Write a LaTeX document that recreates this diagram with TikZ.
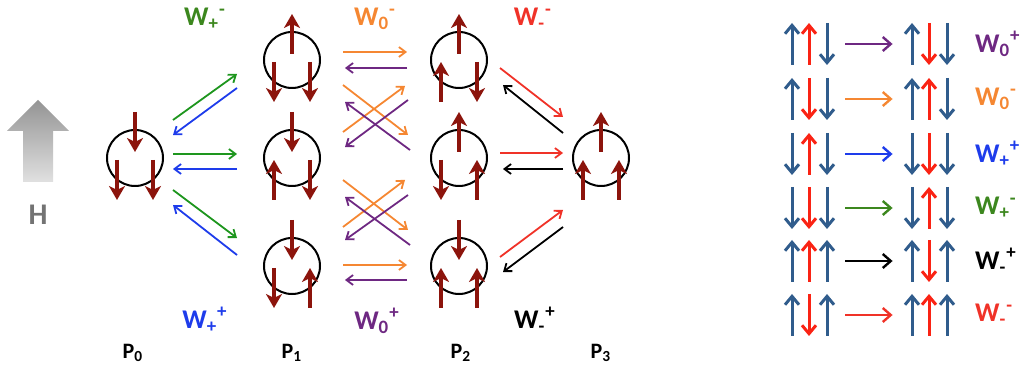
\documentclass[tikz,border=0pt]{standalone}
\usepackage{fontspec}
\setmainfont{Carlito}
\usetikzlibrary{arrows.meta,calc}

\definecolor{spinred}{RGB}{140,20,12}
\definecolor{tblue}{RGB}{48,92,140}
\definecolor{tred}{RGB}{250,35,20}
\definecolor{wgreen}{RGB}{60,135,30}
\definecolor{agreen}{RGB}{30,150,30}
\definecolor{wblue}{RGB}{30,60,235}
\definecolor{worange}{RGB}{245,135,50}
\definecolor{wpurple}{RGB}{110,40,130}
\definecolor{wred}{RGB}{240,50,40}

% W with a subscript and a superscript
\newcommand{\W}[2]{W\textsubscript{#1}\textsuperscript{#2}}

% three spins in a site: centre, left, right (1 = up, -1 = down)
\newcommand{\spins}[4]{%
  \draw[spin] ($(#1)+(0,{-26+20*#2})$) -- ($(#1)+(0,{-26-20*#2})$);
  \draw[spin] ($(#1)+(-18,{22+20*#3})$) -- ($(#1)+(-18,{22-20*#3})$);
  \draw[spin] ($(#1)+(18,{22+20*#4})$) -- ($(#1)+(18,{22-20*#4})$);
}

% one spin of the table: x, row y, 1 up / -1 down, colour
\newcommand{\tspin}[4]{%
  \draw[tabspin,draw=#4] (#1,{#2+21*#3}) -- (#1,{#2-21*#3});
}

\begin{document}
\begin{tikzpicture}[
    x=0.5pt, y=-0.5pt,          % one unit = one pixel, y downwards
    line cap=butt,
    site/.style={circle, draw, line width=1pt, minimum size=28pt, inner sep=0pt},
    spin/.style={draw=spinred, line width=2.1pt, -{Stealth[length=7pt,width=8pt,inset=2pt]}},
    hop/.style={line width=0.9pt, -{Straight Barb[length=3.3pt,width=5pt]}},
    tabspin/.style={line width=1.5pt, -{Straight Barb[length=4.2pt,width=7pt]}},
    move/.style={line width=1.2pt, -{Straight Barb[length=4pt,width=7pt]}},
    wlab/.style={font=\fontsize{13.5}{13.5}\selectfont\bfseries},
    plab/.style={font=\fontsize{11}{11}\selectfont\bfseries},
    ghost/.style={minimum width=36pt, minimum height=4pt, inner sep=0pt}
]
\useasboundingbox (0,0) rectangle (1025,369);

%-----------------------
% FIELD ARROW
%-----------------------
\shade[top color=black!42, bottom color=black!12]
  (38,100) -- (69,131) -- (53,131) -- (53,182) -- (23,182) -- (23,131) -- (7,131) -- cycle;
\node[font=\fontsize{15}{15}\selectfont\bfseries, text=black!55] (hlab) at (38,215) {H};

%-----------------------
% SITES
%-----------------------
\node[site] (p0)  at (135,158) {};
\node[site] (p1a) at (292,60)  {};
\node[site] (p1b) at (292,158) {};
\node[site] (p1c) at (292,266) {};
\node[site] (p2a) at (459,60)  {};
\node[site] (p2b) at (459,158) {};
\node[site] (p2c) at (459,266) {};
\node[site] (p3)  at (601,158) {};

\spins{p0}{-1}{-1}{-1}
\spins{p1a}{1}{-1}{-1}
\spins{p1b}{-1}{1}{-1}
\spins{p1c}{-1}{-1}{1}
\spins{p2a}{1}{1}{-1}
\spins{p2b}{1}{-1}{1}
\spins{p2c}{-1}{1}{1}
\spins{p3}{1}{1}{1}

\node[plab] (n0) at (133,353) {P\textsubscript{0}};
\node[plab] (n1) at (292,353) {P\textsubscript{1}};
\node[plab] (n2) at (461,353) {P\textsubscript{2}};
\node[plab] (n3) at (601,353) {P\textsubscript{3}};

%-----------------------
% P0 <-> P1
%-----------------------
\draw[hop,agreen] ($(p0)+(38,-38)$) -- ($(p1a)+(-55,14)$);
\draw[hop,wblue]  ($(p1a)+(-55,28)$) -- ($(p0)+(38,-23)$);
\draw[hop,agreen] ($(p0)+(38,-4)$)  -- ($(p1b)+(-55,-4)$);
\draw[hop,wblue]  ($(p1b)+(-55,11)$) -- ($(p0)+(38,11)$);
\draw[hop,agreen] ($(p0)+(38,32)$)  -- ($(p1c)+(-55,-28)$);
\draw[hop,wblue]  ($(p1c)+(-55,-11)$) -- ($(p0)+(38,47)$);

\node[wlab,text=wgreen] (wpm) at (205,19) {\W{+}{-}};
\node[wlab,text=wblue]  (wpp) at (205,320) {\W{+}{+}};

%-----------------------
% P1 <-> P2
%-----------------------
\draw[hop,worange] ($(p1a)+(51,-8)$)  -- ($(p2a)+(-52,-8)$);
\draw[hop,wpurple] ($(p2a)+(-52,8)$)  -- ($(p1a)+(53,8)$);
\draw[hop,worange] ($(p1a)+(51,25)$)  -- ($(p2b)+(-51,-23)$);
\draw[hop,worange] ($(p1b)+(51,-26)$) -- ($(p2a)+(-54,26)$);
\draw[hop,wpurple] ($(p2a)+(-51,40)$) -- ($(p1b)+(53,-11)$);
\draw[hop,wpurple] ($(p2b)+(-49,-8)$) -- ($(p1a)+(53,42)$);
\draw[hop,worange] ($(p1b)+(51,22)$)  -- ($(p2c)+(-51,-36)$);
\draw[hop,worange] ($(p1c)+(51,-39)$) -- ($(p2b)+(-54,22)$);
\draw[hop,wpurple] ($(p2b)+(-51,37)$) -- ($(p1c)+(53,-26)$);
\draw[hop,wpurple] ($(p2c)+(-49,-21)$) -- ($(p1b)+(53,39)$);
\draw[hop,worange] ($(p1c)+(51,-1)$)  -- ($(p2c)+(-52,-1)$);
\draw[hop,wpurple] ($(p2c)+(-52,14)$) -- ($(p1c)+(53,14)$);

\node[wlab,text=worange] (wzm) at (375,19) {\W{0}{-}};
\node[wlab,text=wpurple] (wzp) at (377,321) {\W{0}{+}};

%-----------------------
% P2 <-> P3
%-----------------------
\draw[hop,wred] ($(p2a)+(41,8)$)  -- ($(p3)+(-38,-41)$);
\draw[hop]      ($(p3)+(-38,-25)$) -- ($(p2a)+(44,25)$);
\draw[hop,wred] ($(p2b)+(41,-5)$) -- ($(p3)+(-38,-5)$);
\draw[hop]      ($(p3)+(-38,11)$) -- ($(p2b)+(44,11)$);
\draw[hop,wred] ($(p2c)+(41,-9)$) -- ($(p3)+(-38,52)$);
\draw[hop]      ($(p3)+(-38,69)$) -- ($(p2c)+(44,6)$);

\node[wlab,text=wred] (wmm) at (533,19) {\W{-}{-}};
\node[wlab] (wmp) at (535,320) {\W{-}{+}};

%-----------------------
% TABLE OF FLIPS
%-----------------------
\foreach \y/\a/\b/\c/\d/\e/\f/\col/\lab [count=\k] in {
    44/1/1/-1/1/-1/-1/wpurple/{\W{0}{+}},
    99/1/-1/-1/1/1/-1/worange/{\W{0}{-}},
    154/-1/1/-1/-1/-1/-1/wblue/{\W{+}{+}},
    208/-1/-1/-1/-1/1/-1/wgreen/{\W{+}{-}},
    261/1/1/1/1/-1/1/black/{\W{-}{+}},
    315/1/-1/1/1/1/1/wred/{\W{-}{-}}}{
  \tspin{792}{\y}{\a}{tblue}
  \tspin{809}{\y}{\b}{tred}
  \tspin{827}{\y}{\c}{tblue}
  \tspin{912}{\y}{\d}{tblue}
  \tspin{929}{\y}{\e}{tred}
  \tspin{947}{\y}{\f}{tblue}
  \node[ghost] (pre\k)  at (809,\y) {};
  \node[ghost] (post\k) at (929,\y) {};
  \draw[move,\col] (pre\k) -- (post\k);
  \node[wlab,text=\col,anchor=west] (lab\k) at (968,\y) {\lab};
}

\end{tikzpicture}
\end{document}
